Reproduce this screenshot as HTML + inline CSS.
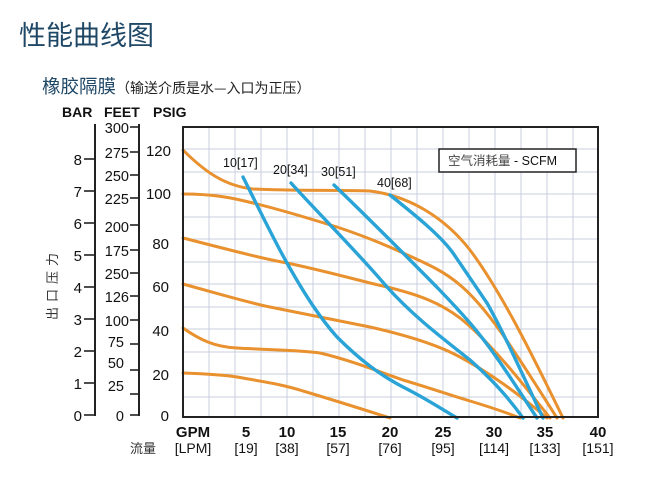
<!DOCTYPE html>
<html><head><meta charset="utf-8"><style>
html,body{margin:0;padding:0;background:#fff;width:650px;height:477px;overflow:hidden}
svg{display:block}
text{font-family:"Liberation Sans","Noto Sans CJK SC",sans-serif}
.cj{font-family:"Noto Sans CJK SC","WenQuanYi Zen Hei",sans-serif}
</style></head><body>
<svg width="650" height="477" viewBox="0 0 650 477" xmlns="http://www.w3.org/2000/svg">
<text x="19" y="45" class="cj" font-size="27" fill="#1f4766">性能曲线图</text>
<text x="42" y="93" class="cj" font-size="18.5" fill="#1f4766">橡胶隔膜<tspan font-size="14" fill="#222">（输送介质是水—入口为正压）</tspan></text>

<!-- grid -->
<g stroke="#c9d0dc" stroke-width="1">
<line x1="209" y1="127" x2="209" y2="417"/><line x1="235" y1="127" x2="235" y2="417"/><line x1="261" y1="127" x2="261" y2="417"/><line x1="287" y1="127" x2="287" y2="417"/><line x1="313" y1="127" x2="313" y2="417"/><line x1="339" y1="127" x2="339" y2="417"/><line x1="365" y1="127" x2="365" y2="417"/><line x1="391" y1="127" x2="391" y2="417"/><line x1="417" y1="127" x2="417" y2="417"/><line x1="443" y1="127" x2="443" y2="417"/><line x1="469" y1="127" x2="469" y2="417"/><line x1="495" y1="127" x2="495" y2="417"/><line x1="521" y1="127" x2="521" y2="417"/><line x1="547" y1="127" x2="547" y2="417"/><line x1="573" y1="127" x2="573" y2="417"/>
<line x1="183" y1="149" x2="598" y2="149"/><line x1="183" y1="172" x2="598" y2="172"/><line x1="183" y1="194" x2="598" y2="194"/><line x1="183" y1="217" x2="598" y2="217"/><line x1="183" y1="239" x2="598" y2="239"/><line x1="183" y1="262" x2="598" y2="262"/><line x1="183" y1="284" x2="598" y2="284"/><line x1="183" y1="307" x2="598" y2="307"/><line x1="183" y1="329" x2="598" y2="329"/><line x1="183" y1="352" x2="598" y2="352"/><line x1="183" y1="374" x2="598" y2="374"/><line x1="183" y1="397" x2="598" y2="397"/>
</g>
<!-- orange curves -->
<g fill="none" stroke="#e8912e" stroke-width="3" stroke-linecap="round">
<path d="M183,150 C205,172 225,186 253,189 C290,191 340,190 370,191 C410,196 445,218 470,250 C500,290 530,350 563,418"/>
<path d="M183,194 C220,194 240,200 253,203 C290,212 320,222 337,227 C370,238 390,247 403,253 C430,265 445,272 460,285 C490,310 520,360 557,418"/>
<path d="M183,238 C230,250 260,258 287,263 C330,272 360,281 387,287 C420,295 440,303 460,318 C490,342 520,380 550,418"/>
<path d="M183,284 C230,297 250,303 270,307 C310,315 340,321 370,327 C410,336 440,346 460,357 C490,373 520,395 547,418"/>
<path d="M183,328 C200,340 215,347 237,348 C270,350 300,350 320,353 C350,360 380,372 403,380 C430,388 450,395 470,401 C490,407 505,412 520,418"/>
<path d="M183,373 C210,374 225,375 237,377 C265,382 285,385 303,391 C340,402 365,410 390,418"/>
</g>
<!-- blue curves -->
<g fill="none" stroke="#2aa3d6" stroke-width="3.4" stroke-linecap="round">
<path d="M243,177 C262,215 275,242 287,263 C305,295 320,318 337,337 C360,360 380,375 403,387 C425,398 440,408 457,418"/>
<path d="M291,183 C320,215 360,255 387,287 C415,318 445,340 470,360 C495,382 510,400 523,418"/>
<path d="M334,185 C360,210 385,235 403,253 C430,280 450,300 470,323 C495,352 515,385 537,418"/>
<path d="M390,195 C415,215 440,235 453,253 C468,275 478,290 487,303 C505,335 525,380 543,418"/>
</g>
<rect x="183" y="127" width="415" height="290" fill="none" stroke="#222" stroke-width="2"/>
<g font-size="12.5" fill="#111">
<text x="223" y="167">10[17]</text><text x="273" y="174">20[34]</text><text x="321" y="176">30[51]</text><text x="377" y="187">40[68]</text>
</g>
<rect x="439" y="149" width="137" height="23" fill="#fff" stroke="#222" stroke-width="1.5"/>
<text x="448" y="165" font-size="12.5" fill="#111"><tspan class="cj" fill="#444">空气消耗量</tspan> - SCFM</text>

<!-- left axes -->
<g font-weight="bold" font-size="14" fill="#111">
<text x="62" y="117">BAR</text><text x="104" y="117">FEET</text><text x="153" y="117">PSIG</text>
</g>
<line x1="95" y1="124" x2="95" y2="416" stroke="#222" stroke-width="2"/>
<line x1="139" y1="124" x2="139" y2="416" stroke="#222" stroke-width="2"/>
<g stroke="#222" stroke-width="1.6">
<line x1="84" y1="415" x2="95" y2="415"/><line x1="84" y1="383" x2="95" y2="383"/><line x1="84" y1="351" x2="95" y2="351"/><line x1="84" y1="319" x2="95" y2="319"/><line x1="84" y1="287" x2="95" y2="287"/><line x1="84" y1="255" x2="95" y2="255"/><line x1="84" y1="223" x2="95" y2="223"/><line x1="84" y1="191" x2="95" y2="191"/><line x1="84" y1="159" x2="95" y2="159"/>
<line x1="130" y1="127" x2="139" y2="127"/><line x1="130" y1="152" x2="139" y2="152"/><line x1="130" y1="175" x2="139" y2="175"/><line x1="130" y1="198" x2="139" y2="198"/><line x1="130" y1="225" x2="139" y2="225"/><line x1="130" y1="250" x2="139" y2="250"/><line x1="130" y1="273" x2="139" y2="273"/><line x1="130" y1="296" x2="139" y2="296"/><line x1="130" y1="320" x2="139" y2="320"/><line x1="130" y1="344" x2="139" y2="344"/><line x1="130" y1="370" x2="139" y2="370"/><line x1="130" y1="394" x2="139" y2="394"/><line x1="130" y1="415" x2="139" y2="415"/>
</g>
<g font-size="15" fill="#111" text-anchor="end">
<text x="82" y="421">0</text><text x="82" y="389">1</text><text x="82" y="357">2</text><text x="82" y="325">3</text><text x="82" y="293">4</text><text x="82" y="261">5</text><text x="82" y="229">6</text><text x="82" y="197">7</text><text x="82" y="165">8</text>
</g>
<g font-size="14.5" fill="#111" text-anchor="end">
<text x="129" y="133">300</text><text x="129" y="158">275</text><text x="129" y="181">250</text><text x="129" y="204">225</text><text x="129" y="232">200</text><text x="129" y="256">175</text><text x="129" y="279">250</text><text x="129" y="302">126</text><text x="129" y="326">100</text><text x="124" y="347">75</text><text x="124" y="368">50</text><text x="124" y="391">25</text><text x="124" y="421">0</text>
</g>
<g font-size="15" fill="#111" text-anchor="end">
<text x="171" y="156">120</text><text x="171" y="199">100</text><text x="169" y="249">80</text><text x="169" y="292">60</text><text x="169" y="336">40</text><text x="169" y="380">20</text><text x="169" y="421">0</text>
</g>
<text class="cj" font-size="13" fill="#333" transform="translate(57,320) rotate(-90)" letter-spacing="5">出口压力</text>

<!-- bottom axis -->
<g font-size="15" font-weight="bold" fill="#111" text-anchor="middle">
<text x="193" y="437">GPM</text><text x="246" y="437">5</text><text x="287" y="437">10</text><text x="338" y="437">15</text><text x="390" y="437">20</text><text x="443" y="437">25</text><text x="494" y="437">30</text><text x="545" y="437">35</text><text x="598" y="437">40</text>
</g>
<g font-size="14" fill="#111" text-anchor="middle">
<text x="193" y="453">[LPM]</text><text x="246" y="453">[19]</text><text x="287" y="453">[38]</text><text x="338" y="453">[57]</text><text x="390" y="453">[76]</text><text x="443" y="453">[95]</text><text x="494" y="453">[114]</text><text x="545" y="453">[133]</text><text x="598" y="453">[151]</text>
</g>
<text x="130" y="453" class="cj" font-size="13" fill="#333">流量</text>
</svg>
</body></html>
